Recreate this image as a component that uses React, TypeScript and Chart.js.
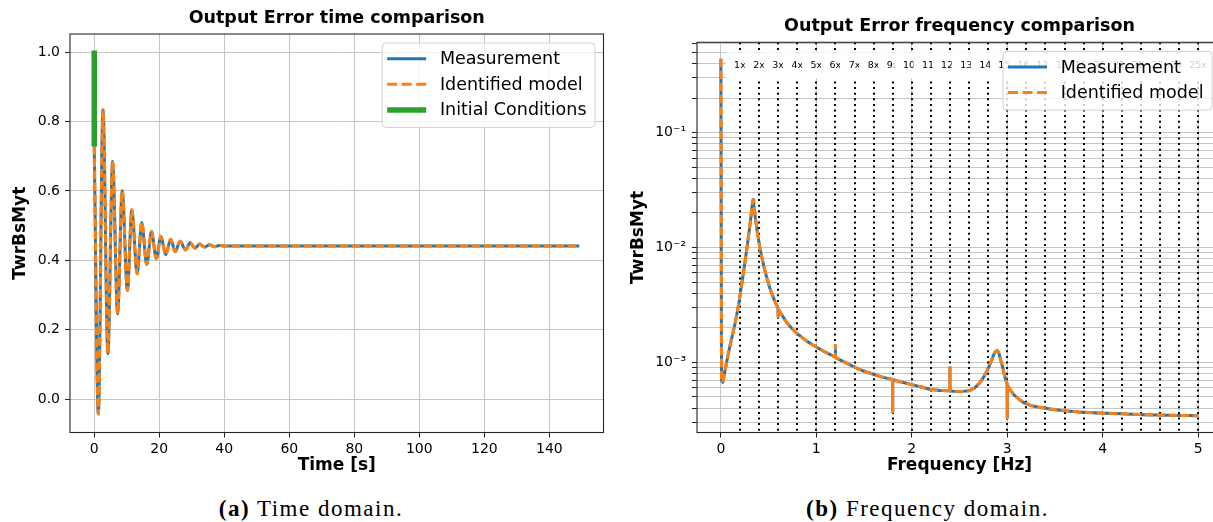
import React, { useEffect, useRef } from 'react';
import { Chart, registerables } from 'chart.js';

Chart.register(...registerables);

const FONT = '"DejaVu Sans", sans-serif';

// ---------- (a) Time domain ----------
const timeS = [0, 1.25, 2.69, 4.2, 5.65, 7.19, 8.6, 10.2, 11.56, 13.2, 14.6, 16.15, 17.6, 19.1, 20.5, 22.0, 23.5, 24.9, 26.4, 28.1, 29.5, 31.0, 32.4, 34.0, 35.4, 37.0, 38.5, 40, 50, 60, 70, 80, 90, 100, 110, 120, 130, 140, 149.2];
const measuredTime = [0.728, -0.043, 0.834, 0.131, 0.685, 0.245, 0.601, 0.313, 0.546, 0.361, 0.509, 0.388, 0.483, 0.405, 0.469, 0.416, 0.461, 0.425, 0.455, 0.43, 0.451, 0.435, 0.447, 0.438, 0.445, 0.439, 0.443, 0.441, 0.441, 0.441, 0.441, 0.441, 0.441, 0.441, 0.441, 0.441, 0.441, 0.441, 0.441];
const modelTime = [0.728, -0.043, 0.834, 0.131, 0.685, 0.245, 0.601, 0.313, 0.546, 0.361, 0.509, 0.388, 0.483, 0.405, 0.469, 0.416, 0.461, 0.425, 0.455, 0.43, 0.451, 0.435, 0.447, 0.438, 0.445, 0.439, 0.443, 0.441, 0.441, 0.441, 0.441, 0.441, 0.441, 0.441, 0.441, 0.441, 0.441, 0.441, 0.441];
const icTime = [0, 0];
const icValues = [1.005, 0.728];

// ---------- (b) Frequency domain ----------
const freqHz = [0, 0.007, 0.02, 0.06, 0.1, 0.15, 0.187, 0.222, 0.25, 0.274, 0.295, 0.315, 0.33, 0.337, 0.345, 0.36, 0.379, 0.41, 0.448, 0.48, 0.518, 0.56, 0.599, 0.6, 0.601, 0.65, 0.693, 0.75, 0.81, 0.9, 1.0, 1.1, 1.199, 1.2, 1.201, 1.28, 1.365, 1.45, 1.53, 1.615, 1.7, 1.799, 1.8, 1.801, 1.9, 2.0, 2.1, 2.2, 2.3, 2.399, 2.4, 2.401, 2.5, 2.6, 2.66, 2.71, 2.76, 2.81, 2.85, 2.875, 2.893, 2.91, 2.93, 2.95, 2.97, 2.99, 2.999, 3.0, 3.001, 3.03, 3.07, 3.12, 3.17, 3.25, 3.32, 3.45, 3.57, 3.75, 3.95, 4.2, 4.43, 4.7, 4.9, 5.0];
const measuredSpec = [0.44, 7.0e-4, 6.7e-4, 1.0e-3, 1.45e-3, 2.2e-3, 3.2e-3, 5.0e-3, 7.2e-3, 0.01, 0.0135, 0.0185, 0.024, 0.026, 0.0235, 0.0185, 0.0142, 0.0098, 0.007, 0.0055, 0.0043, 0.0035, 0.00295, 0.0025, 0.0029, 0.0025, 0.0022, 0.00195, 0.00175, 0.00153, 0.00136, 0.00122, 0.00111, 0.0014, 0.0011, 0.00102, 0.00094, 0.00087, 0.00082, 0.00078, 0.00074, 0.00071, 0.00037, 0.000705, 0.00067, 0.00064, 0.00061, 0.00058, 0.00057, 0.000565, 0.0009, 0.000563, 0.000556, 0.000565, 0.0006, 0.00066, 0.00076, 0.00092, 0.00112, 0.00124, 0.00127, 0.00122, 0.00106, 0.00092, 0.00078, 0.00068, 0.00065, 0.00033, 0.00063, 0.00058, 0.00052, 0.00048, 0.000447, 0.00042, 0.000408, 0.000392, 0.000381, 0.00037, 0.000363, 0.000356, 0.00035, 0.000346, 0.000344, 0.000343];
const modelSpec = [0.44, 7.0e-4, 6.7e-4, 1.0e-3, 1.45e-3, 2.2e-3, 3.2e-3, 5.0e-3, 7.2e-3, 0.01, 0.0135, 0.0185, 0.024, 0.026, 0.0235, 0.0185, 0.0142, 0.0098, 0.007, 0.0055, 0.0043, 0.0035, 0.00295, 0.0025, 0.0029, 0.0025, 0.0022, 0.00195, 0.00175, 0.00153, 0.00136, 0.00122, 0.00111, 0.0014, 0.0011, 0.00102, 0.00094, 0.00087, 0.00082, 0.00078, 0.00074, 0.00071, 0.00037, 0.000705, 0.00067, 0.00064, 0.00061, 0.00058, 0.00057, 0.000565, 0.0009, 0.000563, 0.000556, 0.000565, 0.0006, 0.00066, 0.00076, 0.00092, 0.00112, 0.00124, 0.00127, 0.00122, 0.00106, 0.00092, 0.00078, 0.00068, 0.00065, 0.00033, 0.00063, 0.00058, 0.00052, 0.00048, 0.000447, 0.00042, 0.000408, 0.000392, 0.000381, 0.00037, 0.000363, 0.000356, 0.00035, 0.000346, 0.000344, 0.000343];
const harmonicFreqs = [0.2, 0.4, 0.6, 0.8, 1.0, 1.2, 1.4, 1.6, 1.8, 2.0, 2.2, 2.4, 2.6, 2.8, 3.0, 3.2, 3.4, 3.6, 3.8, 4.0, 4.2, 4.4, 4.6, 4.8, 5.0];
const harmonicLabels = ['1x', '2x', '3x', '4x', '5x', '6x', '7x', '8x', '9x', '10x', '11x', '12x', '13x', '14x', '15x', '16x', '17x', '18x', '19x', '20x', '21x', '22x', '23x', '24x', '25x'];
const rightYMajorTicks = [1e-4, 1e-3, 1e-2, 1e-1];
const rightYMinorMultipliers = [1, 2, 3, 4, 5, 6, 7, 8, 9];

const SUP: Record<string, string> = { '-': '\u207B', '0': '\u2070', '1': '\u00B9', '2': '\u00B2', '3': '\u00B3', '4': '\u2074', '5': '\u2075', '6': '\u2076', '7': '\u2077', '8': '\u2078', '9': '\u2079' };
const sup = (n: number) => String(n).split('').map((c) => SUP[c] || c).join('');

const GRID = '#c6c6c6';
const TICKC = '#222';

type OverlayOpts = {
  title: string;
  titleY: number;
  legendRightGap: number;
  legendTopGap: number;
  harmonics: boolean;
};

function overlayPlugin(o: OverlayOpts) {
  return {
    id: 'overlay',
    beforeDatasetsDraw(chart: any) {
      if (!o.harmonics) return;
      const { ctx, chartArea: a, scales } = chart;
      ctx.save();
      ctx.beginPath();
      ctx.rect(a.left, a.top, a.right - a.left, a.bottom - a.top);
      ctx.clip();
      ctx.strokeStyle = '#000';
      ctx.lineWidth = 2;
      ctx.setLineDash([2, 3.6]);
      for (const f of harmonicFreqs) {
        const x = Math.round(scales.x.getPixelForValue(f));
        ctx.beginPath();
        ctx.moveTo(x, a.top);
        ctx.lineTo(x, a.bottom);
        ctx.stroke();
      }
      ctx.restore();
    },
    afterDatasetsDraw(chart: any) {
      const { ctx, chartArea: a, scales } = chart;
      ctx.save();
      if (o.harmonics) {
        ctx.font = `9.5px ${FONT}`;
        ctx.textAlign = 'center';
        ctx.textBaseline = 'middle';
        harmonicFreqs.forEach((f, i) => {
          const x = scales.x.getPixelForValue(f);
          const label = harmonicLabels[i];
          const w = ctx.measureText(label).width;
          ctx.fillStyle = '#fff';
          ctx.fillRect(x - w / 2 - 8.5, a.top + 10, w + 17, 26);
          ctx.fillStyle = '#000';
          ctx.fillText(label, x, a.top + 23);
        });
      }
      // frame
      ctx.setLineDash([]);
      ctx.strokeStyle = '#262626';
      ctx.lineWidth = 1.1;
      ctx.strokeRect(a.left, a.top, a.right - a.left, a.bottom - a.top);
      // title
      ctx.fillStyle = '#000';
      ctx.font = `bold 17.5px ${FONT}`;
      ctx.textAlign = 'center';
      ctx.textBaseline = 'middle';
      ctx.fillText(o.title, (a.left + a.right) / 2, o.titleY);
      // legend
      const ds = chart.data.datasets;
      ctx.font = `17.5px ${FONT}`;
      let maxW = 0;
      ds.forEach((d: any) => { maxW = Math.max(maxW, ctx.measureText(d.label).width); });
      const boxRight = a.right - o.legendRightGap;
      const boxLeft = boxRight - (57.7 + maxW + 8.5);
      const boxTop = a.top + o.legendTopGap;
      const rowGap = 25.6;
      const firstRow = boxTop + 15.7;
      const boxBottom = firstRow + rowGap * (ds.length - 1) + 17.5;
      ctx.beginPath();
      ctx.roundRect(boxLeft, boxTop, boxRight - boxLeft, boxBottom - boxTop, 4);
      ctx.fillStyle = 'rgba(255,255,255,0.8)';
      ctx.fill();
      ctx.strokeStyle = '#d0d0d0';
      ctx.lineWidth = 1;
      ctx.stroke();
      ds.forEach((d: any, i: number) => {
        const y = firstRow + rowGap * i;
        ctx.beginPath();
        ctx.setLineDash(d.borderDash ? [10, 4.5] : []);
        ctx.strokeStyle = d.borderColor;
        ctx.lineWidth = d.borderWidth;
        ctx.moveTo(boxLeft + 5, y);
        ctx.lineTo(boxLeft + 44, y);
        ctx.stroke();
        ctx.setLineDash([]);
        ctx.fillStyle = '#000';
        ctx.textAlign = 'left';
        ctx.textBaseline = 'middle';
        ctx.fillText(d.label, boxLeft + 57.7, y + 1);
      });
      ctx.restore();
    },
  };
}

const tickFont = { family: FONT, size: 14 };
const titleFont = { family: FONT, size: 17, weight: 'bold' as const };

export default function App() {
  const leftRef = useRef<HTMLCanvasElement>(null);
  const rightRef = useRef<HTMLCanvasElement>(null);

  useEffect(() => {
    const left = new Chart(leftRef.current!, {
      type: 'line',
      data: {
        datasets: [
          { label: 'Measurement', data: timeS.map((t, i) => ({ x: t, y: measuredTime[i] })), borderColor: '#1f77b4', borderWidth: 3, order: 3 },
          { label: 'Identified model', data: timeS.map((t, i) => ({ x: t, y: modelTime[i] })), borderColor: '#ff7f0e', borderWidth: 3, borderDash: [8.5, 3.5], order: 2 },
          { label: 'Initial Conditions', data: icTime.map((t, i) => ({ x: t, y: icValues[i] })), borderColor: '#2ca02c', borderWidth: 5.5, order: 1, cubicInterpolationMode: 'default', tension: 0 },
        ] as any,
      },
      options: {
        responsive: false,
        animation: false,
        devicePixelRatio: 1,
        layout: { padding: { left: 0, right: 16.5, top: 34, bottom: 0 } },
        elements: { point: { radius: 0 }, line: { tension: 0, cubicInterpolationMode: 'monotone', fill: false } },
        plugins: { legend: { display: false }, title: { display: false }, tooltip: { enabled: false } },
        scales: {
          x: {
            type: 'linear', min: -7.46, max: 156.66,
            afterFit: (s: any) => { s.height = 47.5; },
            ticks: { stepSize: 20, includeBounds: false, font: tickFont, color: '#000', padding: 3, maxRotation: 0, autoSkip: false },
            grid: { color: GRID, lineWidth: 1, tickColor: TICKC, tickLength: 5 },
            border: { display: false },
            title: { display: true, text: 'Time [s]', font: titleFont, color: '#000', padding: { top: 0, bottom: 4 } },
          },
          y: {
            type: 'linear', min: -0.0965, max: 1.0525,
            afterFit: (s: any) => { s.width = 70; },
            ticks: { stepSize: 0.2, includeBounds: false, font: tickFont, color: '#000', padding: 5, callback: (v: any) => Number(v).toFixed(1) },
            grid: { color: GRID, lineWidth: 1, tickColor: TICKC, tickLength: 5 },
            border: { display: false },
            title: { display: true, text: 'TwrBsMyt', font: titleFont, color: '#000', padding: { top: 10, bottom: 0 } },
          },
        },
      } as any,
      plugins: [overlayPlugin({ title: 'Output Error time comparison', titleY: 18, legendRightGap: 8.5, legendTopGap: 9, harmonics: false })],
    });

    const yTickValues: number[] = [];
    rightYMajorTicks.forEach((p) => rightYMinorMultipliers.forEach((m) => yTickValues.push(m * p)));
    const yMin = 2.45e-4;
    const yMax = 0.612;

    const right = new Chart(rightRef.current!, {
      type: 'line',
      data: {
        datasets: [
          { label: 'Measurement', data: freqHz.map((f, i) => ({ x: f, y: measuredSpec[i] })), borderColor: '#1f77b4', borderWidth: 3, order: 2 },
          { label: 'Identified model', data: freqHz.map((f, i) => ({ x: f, y: modelSpec[i] })), borderColor: '#ff7f0e', borderWidth: 3, borderDash: [8.5, 3.5], order: 1 },
        ] as any,
      },
      options: {
        responsive: false,
        animation: false,
        devicePixelRatio: 1,
        layout: { padding: { left: 0, right: 8, top: 42.3, bottom: 0 } },
        elements: { point: { radius: 0 }, line: { tension: 0, fill: false, borderJoinStyle: 'round' } },
        plugins: { legend: { display: false }, title: { display: false }, tooltip: { enabled: false } },
        scales: {
          x: {
            type: 'linear', min: -0.25, max: 5.25,
            afterFit: (s: any) => { s.height = 47.5; },
            ticks: { stepSize: 1, includeBounds: false, font: tickFont, color: '#000', padding: 3, maxRotation: 0, autoSkip: false },
            grid: { color: GRID, lineWidth: 1, tickColor: TICKC, tickLength: 5 },
            border: { display: false },
            title: { display: true, text: 'Frequency [Hz]', font: titleFont, color: '#000', padding: { top: 0, bottom: 4 } },
          },
          y: {
            type: 'logarithmic', min: yMin, max: yMax,
            afterFit: (s: any) => { s.width = 77; },
            afterBuildTicks: (s: any) => { s.ticks = yTickValues.filter((v) => v > yMin && v < yMax).map((v) => ({ value: v })); },
            ticks: {
              autoSkip: false, font: tickFont, color: '#000', padding: 6,
              callback: (v: any) => {
                const e = Math.log10(Number(v));
                return Math.abs(e - Math.round(e)) < 1e-6 ? '10' + sup(Math.round(e)) : '';
              },
            },
            grid: { color: GRID, lineWidth: 1, tickColor: TICKC, tickLength: 5 },
            border: { display: false },
            title: { display: true, text: 'TwrBsMyt', font: titleFont, color: '#000', padding: { top: 8, bottom: 0 } },
          },
        },
      } as any,
      plugins: [overlayPlugin({ title: 'Output Error frequency comparison', titleY: 26, legendRightGap: 10, legendTopGap: 9, harmonics: true })],
    });

    return () => { left.destroy(); right.destroy(); };
  }, []);

  const capStyle: React.CSSProperties = { position: 'absolute', top: 496, lineHeight: '26px', textAlign: 'center', fontFamily: '"Liberation Serif", serif', fontSize: 23, letterSpacing: 1.5, color: '#000' };

  return (
    <div style={{ position: 'absolute', left: 0, top: 0, width: 1213, height: 522, overflow: 'hidden', background: '#fff' }}>
      <canvas ref={leftRef} width={620} height={480} style={{ position: 'absolute', left: 0, top: 0, width: 620, height: 480 }} />
      <canvas ref={rightRef} width={610} height={480} style={{ position: 'absolute', left: 620, top: 0, width: 610, height: 480 }} />
      <div style={{ ...capStyle, left: 0, width: 622 }}><b>(a)</b> Time domain.</div>
      <div style={{ ...capStyle, left: 642, width: 571 }}><b>(b)</b> Frequency domain.</div>
    </div>
  );
}
